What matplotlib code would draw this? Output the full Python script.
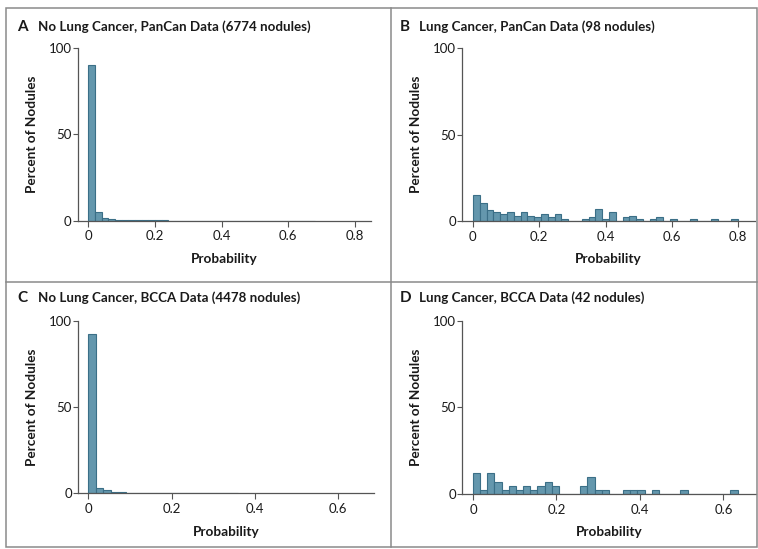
import matplotlib
matplotlib.use('Agg')
import matplotlib.pyplot as plt
import numpy as np
from matplotlib.patches import Rectangle
from matplotlib.lines import Line2D

plt.rcParams['font.family'] = ['Lato', 'DejaVu Sans']

W, H = 758, 549

# panel A: percent of nodules per bin (6774 nodules)
a_pct = [89.8, 4.8, 1.5, 0.9, 0.6, 0.35, 0.3, 0.25, 0.2, 0.15, 0.15, 0.12,
         0.1, 0.1, 0.08, 0.08, 0.06, 0.06, 0.06, 0.05, 0.05, 0.04, 0.04, 0.03,
         0.03, 0.03, 0.03, 0.03, 0.03, 0.02, 0.02, 0.02, 0.02, 0.02]
a_bin = 0.02

# panel B: nodule counts per bin (98 nodules)
b_count = [15, 10, 6, 5, 4, 5, 3, 5, 3, 2, 4, 2, 4, 1, 0, 0, 1, 2, 7, 1,
           5, 0, 2, 3, 1, 0, 1, 2, 0, 1, 0, 0, 1, 0, 0, 1, 0, 0, 1]
b_total = 98
b_bin = 0.8 / 39

# panel C: percent of nodules per bin (4478 nodules)
c_pct = [92.2, 3.3, 1.7, 0.8, 0.5, 0.4, 0.2, 0.3, 0.15, 0.1, 0.1, 0.08,
         0.06, 0.05, 0.05, 0.04, 0.03, 0.03, 0.02, 0.02]
c_bin = 0.018

# panel D: nodule counts per bin (42 nodules)
d_count = [5, 1, 5, 3, 1, 2, 1, 2, 1, 2, 3, 2, 0, 0, 0, 2, 4, 1, 1, 0, 0,
           1, 1, 1, 0, 1, 0, 0, 0, 1, 0, 0, 0, 0, 0, 0, 1]
d_total = 42
d_bin = 0.634 / 37

titles = ['No Lung Cancer, PanCan Data (6774 nodules)',
          'Lung Cancer, PanCan Data (98 nodules)',
          'No Lung Cancer, BCCA Data (4478 nodules)',
          'Lung Cancer, BCCA Data (42 nodules)']
letters = ['A', 'B', 'C', 'D']
xticks_ab = [0, 0.2, 0.4, 0.6, 0.8]
xticks_cd = [0, 0.2, 0.4, 0.6]

face = '#6497ad'
edge = '#3b6f87'
axcol = '#555555'
txt = '#1a1a1a'

fig = plt.figure(figsize=(W / 100, H / 100), dpi=100)


def fx(px):
    return px / W


def fy(py):
    return 1 - py / H


def make_axes(l, r, top, bot, xlim, xticks, pct, binw):
    ax = fig.add_axes([fx(l), fy(bot), fx(r - l), (bot - top) / H])
    pct = np.asarray(pct, dtype=float)
    left = np.arange(len(pct)) * binw
    ax.bar(left, pct, width=binw, align='edge', color=face, edgecolor=edge,
           linewidth=0.8)
    ax.set_xlim(*xlim)
    ax.set_ylim(0, 100)
    ax.set_yticks([0, 50, 100])
    ax.set_xticks(xticks)
    ax.set_xticklabels(['0' if t == 0 else f'{t:g}' for t in xticks])
    for s in ['top', 'right']:
        ax.spines[s].set_visible(False)
    for s in ['left', 'bottom']:
        ax.spines[s].set_color(axcol)
        ax.spines[s].set_linewidth(0.9)
    ax.tick_params(axis='y', length=3.5, width=0.8, color=axcol, pad=1,
                   labelsize=9.5, labelcolor=txt)
    ax.tick_params(axis='x', length=4, width=0.8, color=axcol, pad=3,
                   labelsize=9.5, labelcolor=txt)
    ax.set_facecolor('none')
    return ax


axA = make_axes(78, 371, 47.7, 220.7, (-0.031, 0.848), xticks_ab, a_pct, a_bin)
axB = make_axes(462.3, 755, 48, 221, (-0.032, 0.851), xticks_ab,
                100 * np.array(b_count) / b_total, b_bin)
axC = make_axes(78.3, 374, 320.7, 493.3, (-0.024, 0.686), xticks_cd, c_pct, c_bin)
axD = make_axes(462.3, 756, 320.6, 494, (-0.0256, 0.678), xticks_cd,
                100 * np.array(d_count) / d_total, d_bin)

# titles and axis labels
panels = [(axA, 17, 38, 27, 78, 371, 134, 259),
          (axB, 400, 419, 27, 462, 755, 134.5, 259),
          (axC, 17, 38, 298, 78, 374, 407, 532),
          (axD, 400, 419, 298, 462, 756, 407, 532)]
for i, (ax, lx, tx, ty, l, r, yc, xly) in enumerate(panels):
    fig.text(fx(lx), fy(ty), letters[i], fontsize=11, fontweight='bold',
             color=txt, va='center', ha='left')
    fig.text(fx(tx), fy(ty), titles[i], fontsize=9.6, fontweight='bold',
             color=txt, va='center', ha='left')
    fig.text(fx(l - 46), fy(yc), 'Percent of Nodules', rotation=90,
             fontsize=9.8, fontweight='bold', color=txt, va='center', ha='center')
    fig.text(fx((l + r) / 2), fy(xly), 'Probability', fontsize=9.8,
             fontweight='bold', color=txt, va='center', ha='center')

# panel frame and dividers
grey = '#8a8a8a'
fig.add_artist(Rectangle((fx(6), fy(547)), fx(757) - fx(6), fy(8) - fy(547),
                         fill=False, edgecolor=grey, linewidth=1.1,
                         transform=fig.transFigure))
fig.add_artist(Line2D([fx(391), fx(391)], [fy(8), fy(547)], color=grey,
                      linewidth=1.1, transform=fig.transFigure))
fig.add_artist(Line2D([fx(6), fx(757)], [fy(282), fy(282)], color=grey,
                      linewidth=1.1, transform=fig.transFigure))

fig.savefig('out.png', dpi=100, facecolor='white')
